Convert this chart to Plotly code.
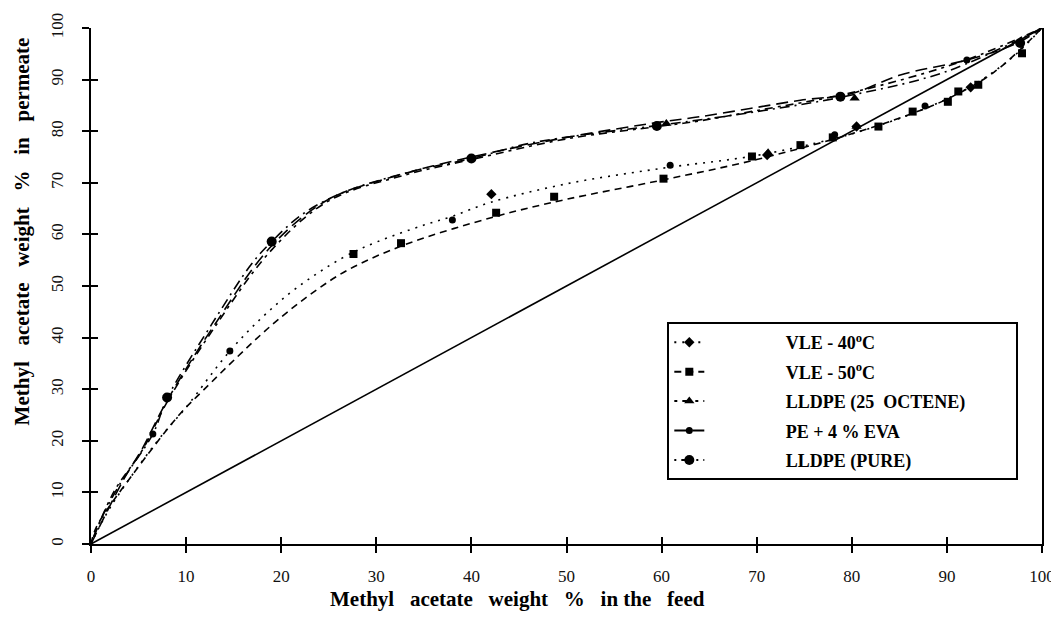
import plotly.graph_objects as go

# ---------------- data ----------------
diag_x = [0, 100]
diag_y = [0, 100]

# VLE - 40 C  (dotted, diamonds)
vle40_cx = [0, 2, 7, 10, 14.6, 18.1, 21.6, 26.4, 30, 35, 38, 42, 50, 60, 70, 78, 82, 88, 93, 97, 100]
vle40_cy = [0, 7, 20, 26.5, 37.4, 44.1, 49.6, 55.4, 58.5, 61.8, 63.5, 66.2, 69.8, 72.8, 75.3, 78.5, 80.6, 84.6, 89.2, 94.5, 100]
vle40_px = [42.1, 71.1, 80.5, 92.5]
vle40_py = [67.8, 75.4, 80.9, 88.5]

# VLE - 50 C  (dashed, squares)
vle50_cx = [0, 0.6, 4.6, 9.4, 11.1, 18.8, 23.7, 27.1, 33, 42.6, 50, 60, 70, 80, 86, 90, 95, 100]
vle50_cy = [0, 3.4, 14, 25.3, 28.5, 42.1, 49.2, 53.2, 58, 63.5, 66.8, 70.5, 74.5, 79.5, 83.2, 86.2, 91.5, 100]
vle50_px = [27.6, 32.6, 42.6, 48.7, 60.2, 69.5, 74.6, 78.0, 82.8, 86.4, 90.1, 91.2, 93.3, 97.9]
vle50_py = [56.2, 58.3, 64.2, 67.3, 70.8, 75.1, 77.3, 78.8, 80.9, 83.8, 85.7, 87.7, 89.0, 95.1]

# LLDPE (25 OCTENE)  (dash-dot, triangles)
oct_cx = [0, 2.4, 5.4, 8, 13, 19, 25, 33, 40, 50, 60, 64, 70, 80, 92, 100]
oct_cy = [0, 10.1, 18.2, 27.5, 42, 57, 66.5, 71.5, 74.5, 78.5, 81.0, 82, 84, 87.5, 93.8, 100]
oct_px = [60.5, 71.2, 80.3, 80.5]
oct_py = [81.5, 75.8, 86.4, 80.9]

# PE + 4 % EVA  (long dash, small circles)
eva_cx = [0, 3.4, 5.4, 8, 13, 19, 25, 33, 40, 50, 60, 64, 69.3, 74.6, 80, 85.1, 92.1, 97.3, 100]
eva_cy = [0, 12.4, 18.5, 27.8, 42.5, 57.8, 66.8, 71.8, 75, 78.8, 81.8, 82.8, 84.4, 86, 87.3, 90.9, 93.8, 97, 100]
eva_px = [6.5, 14.6, 38.0, 60.9, 78.2, 87.7, 92.1]
eva_py = [21.3, 37.4, 62.8, 73.4, 79.3, 84.9, 93.8]

# LLDPE (PURE)  (dash-dot, big circles)
pure_cx = [0, 1, 3, 6.5, 8, 12.7, 16.9, 19, 22.3, 26.5, 33.5, 40, 46, 53, 60, 70, 80, 90, 100]
pure_cy = [0, 4.6, 11.5, 21.3, 28.2, 42.6, 54.3, 58.6, 64, 68.1, 72.1, 74.7, 77.6, 79.6, 81.2, 83.8, 87, 91.6, 100]
pure_px = [8.0, 19.0, 40.0, 59.5, 78.8, 97.7]
pure_py = [28.4, 58.6, 74.7, 81.0, 86.7, 97.1]

names = ["VLE - 40<sup>o</sup>C", "VLE - 50<sup>o</sup>C", "LLDPE (25\u00a0\u00a0OCTENE)",
         "PE + 4 % EVA", "LLDPE (PURE)"]

x_ticks = [0, 10, 20, 30, 40, 50, 60, 70, 80, 90, 100]
y_ticks = [0, 10, 20, 30, 40, 50, 60, 70, 80, 90, 100]

x_title_words = ["Methyl", "acetate", "weight", "%", "in the", "feed"]
y_title_words = ["Methyl", "acetate", "weight", "%", "in", "permeate"]

# ---------------- styles ----------------
SERIF = "Liberation Serif"
PAD = "\u00a0" * 17
TAIL = "\u00a0" * 10
GAP = "\u00a0\u00a0 "
series = [
    (vle40_cx, vle40_cy, vle40_px, vle40_py, "2px,6px", "diamond", 8),
    (vle50_cx, vle50_cy, vle50_px, vle50_py, "7px,5px", "square", 8),
    (oct_cx, oct_cy, oct_px, oct_py, "3px,5px,8px,5px", "triangle-up", 9),
    (eva_cx, eva_cy, eva_px, eva_py, "12px,6px", "circle", 7),
    (pure_cx, pure_cy, pure_px, pure_py, "2px,5px,10px,5px", "circle", 10),
]

fig = go.Figure()

fig.add_trace(go.Scatter(x=diag_x, y=diag_y, mode="lines",
                         line=dict(color="black", width=1.6), showlegend=False,
                         hoverinfo="skip"))

for i, ((cx, cy, px, py, dash, sym, ms), nm) in enumerate(zip(series, names)):
    fig.add_trace(go.Scatter(x=cx, y=cy, mode="lines", line_shape="spline",
                             line=dict(color="black", width=1.6, dash=dash),
                             showlegend=False))
    fig.add_trace(go.Scatter(x=px, y=py, mode="markers",
                             marker=dict(color="black", symbol=sym, size=ms),
                             showlegend=False, cliponaxis=False))
    label = PAD + nm + (TAIL if i == 2 else "")
    fig.add_trace(go.Scatter(x=[None], y=[None], mode="lines+markers", name=label,
                             legendgroup="g%d" % i,
                             line=dict(color="black", width=2, dash=dash),
                             marker=dict(color="black", symbol=sym, size=ms)))

axis_common = dict(range=[0, 100], showgrid=False, zeroline=False, automargin=False,
                   linecolor="black", linewidth=2, ticks="outside", ticklen=7,
                   tickwidth=1.5, tickcolor="black",
                   tickfont=dict(family=SERIF, size=17, color="#111"))

# page body adds an 8px offset; the figure is sized so the plot area lands
# at x 91..1042, y 28..544 of the window
fig.update_layout(
    width=1051, height=617,
    margin=dict(l=83, r=17, t=20, b=81, autoexpand=False),
    paper_bgcolor="white", plot_bgcolor="white",
    xaxis=dict(**axis_common, tickvals=x_ticks, ticklabelstandoff=9),
    yaxis=dict(**axis_common, tickvals=y_ticks, tickangle=-90, mirror=True,
               ticklabelstandoff=12),
    xaxis2=dict(range=[0, 100], overlaying="x", anchor="y", side="bottom",
                tickvals=x_ticks, ticks="inside", ticklen=7, tickwidth=1.5,
                tickcolor="black", showticklabels=False, showgrid=False,
                zeroline=False, showline=False, automargin=False),
    yaxis2=dict(range=[0, 100], overlaying="y", anchor="x", side="left",
                tickvals=y_ticks, ticks="inside", ticklen=7, tickwidth=1.5,
                tickcolor="black", showticklabels=False, showgrid=False,
                zeroline=False, showline=False, automargin=False),
    legend=dict(x=0.606, y=0.43, xanchor="left", yanchor="top",
                bgcolor="white", bordercolor="black", borderwidth=2,
                font=dict(family=SERIF, size=18, color="black", weight="bold"),
                tracegroupgap=3),
    showlegend=True,
)

# invisible trace so overlay axes render
fig.add_trace(go.Scatter(x=[None], y=[None], xaxis="x2", yaxis="y2",
                         showlegend=False))

fig.add_annotation(text=GAP.join(x_title_words),
                   xref="paper", yref="paper", x=0.448, y=-0.107,
                   xanchor="center", yanchor="middle", showarrow=False,
                   font=dict(family=SERIF, size=21, color="black", weight="bold"))
fig.add_annotation(text=GAP.join(y_title_words),
                   xref="paper", yref="paper", x=-0.073, y=0.605,
                   xanchor="center", yanchor="middle", textangle=-90, showarrow=False,
                   font=dict(family=SERIF, size=21, color="black", weight="bold"))

fig.write_html("out.html")
